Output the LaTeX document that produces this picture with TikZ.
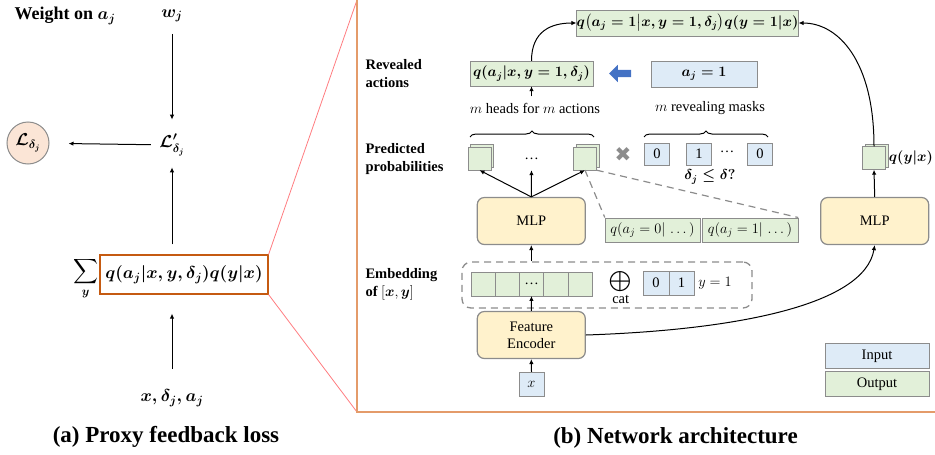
\documentclass[tikz,border=0pt]{standalone}
\usepackage{amsmath}
\usepackage{fontspec}
\setmainfont{Liberation Serif}
\newfontfamily\dejavu{DejaVu Sans}
\usetikzlibrary{positioning,arrows.meta,decorations.pathreplacing,shapes.arrows,shadows}

\definecolor{outgreen}{HTML}{E2F0D9}
\definecolor{inblue}{HTML}{DEEBF7}
\definecolor{mlpyellow}{HTML}{FFF2CC}
\definecolor{losspeach}{HTML}{FBE5D6}
\definecolor{edgegray}{HTML}{8C8C8C}
\definecolor{zoomorange}{HTML}{C55A11}
\definecolor{frameorange}{HTML}{E49B6A}
\definecolor{zoomred}{HTML}{FF7C80}
\definecolor{arrowblue}{HTML}{4472C4}

\newcommand\nsize{\fontsize{14.5}{17}\selectfont}
\newcommand\bigmath{\fontsize{17}{20}\selectfont\boldmath}

\tikzset{
  conn/.style={-{Latex[length=5pt,width=4.5pt]},line width=1pt},
  outbox/.style={draw=edgegray,fill=outgreen,inner sep=0pt,minimum height=24pt},
  inbox/.style={draw=edgegray,fill=inblue,inner sep=0pt,minimum height=24pt},
  mlpbox/.style={draw=edgegray,fill=mlpyellow,line width=1.2pt,rounded corners=7pt,
    minimum width=108pt,minimum height=47pt,align=center},
  rowlab/.style={anchor=west,align=left,font=\fontsize{14.5}{18}\selectfont\bfseries},
  sq/.style={outbox,minimum width=23pt,minimum height=23pt,
    copy shadow={shadow xshift=2.5pt,shadow yshift=2.5pt}},
  cell/.style={draw=edgegray,minimum width=24.3pt,minimum height=24pt,inner sep=0pt},
  curly/.style={decorate,decoration={brace,amplitude=6pt},line width=1pt},
  zoomdash/.style={edgegray,line width=1.2pt,dash pattern=on 7pt off 5pt},
  bm/.style={font=\nsize\boldmath},
  caption/.style={font=\fontsize{23}{25}\selectfont\bfseries}
}

\begin{document}
\begin{tikzpicture}[x=1pt,y=-1pt,font=\nsize]
  \useasboundingbox (0,0) rectangle (935,455);

  %% (a) proxy feedback loss
  \node[font=\fontsize{18}{20}\selectfont\bfseries\boldmath] (wlab) at (65,16) {Weight on $a_j$};
  \node[font=\fontsize{18}{20}\selectfont\boldmath] (wj) at (172,16) {$w_j$};
  \node[font=\bigmath] (lp) at (172,145) {$\mathcal{L}'_{\delta_j}$};
  \node[circle,draw=edgegray,fill=losspeach,line width=1pt,minimum size=42pt,
    inner sep=0pt,font=\bigmath] (lc) at (28,143) {$\mathcal{L}_{\delta_j}$};
  \node[draw=zoomorange,line width=1.2pt,minimum width=168pt,minimum height=39pt,
    inner sep=2pt,font=\bigmath] (qsum) at (184,274.5) {$q(a_j|x,y,\delta_j)q(y|x)$};
  \node[anchor=east,inner sep=1pt,yshift=-4pt,font=\bigmath] (sumsym) at (qsum.west)
    {$\displaystyle\sum_{y}$};
  \node[font=\bigmath] (xdj) at (172,398) {$x,\delta_j,a_j$};
  \node[caption] (capa) at (166,437) {(a) Proxy feedback loss};

  \draw[conn,shorten <=8pt,shorten >=11pt] (wj) -- (lp);
  \draw[conn,shorten <=5pt,shorten >=19pt] (lp) -- (lc);
  \draw[conn,shorten <=10pt,shorten >=8pt] (qsum.north -| lp) -- (lp);
  \draw[conn,shorten <=17pt,shorten >=19pt] (xdj.north) -- (xdj.north |- qsum.south);

  %% zoom into (b)
  \coordinate (ftop) at (357,0);
  \coordinate (fbot) at (357,412);
  \draw[zoomred,line width=.8pt] (qsum.north east) -- (ftop) (qsum.south east) -- (fbot);
  \draw[frameorange,line width=1.5pt] (ftop) -- (fbot) -- (935,412);

  %% (b) network architecture
  \node[rowlab] (revlab) at (362,74) {Revealed\\actions};
  \node[rowlab] (predlab) at (362,159) {Predicted\\probabilities};
  \node[rowlab] (emblab) at (362,284) {Embedding\\of $[\boldsymbol{x},\boldsymbol{y}]$};

  \node[outbox,minimum width=221pt,minimum height=26pt,bm] (joint) at (687.5,23)
    {$q\big(a_j=1\big|x,y=1,\delta_j\big)q(y=1|x)$};
  \node[outbox,minimum width=123pt,minimum height=25pt,bm] (qrev) at (531.5,73.5)
    {$q(a_j|x,y=1,\delta_j)$};
  \node[single arrow,fill=arrowblue,shape border rotate=180,minimum height=22pt,
    inner sep=3.5pt,single arrow head extend=5pt] (barr) at (622,73.5) {};
  \node[inbox,minimum width=106pt,minimum height=26pt,bm] (aone) at (704,74) {$a_j=1$};
  \node (heads) at (535,108) {$m$ heads for $m$ actions};
  \node (masks) at (710,108) {$m$ revealing masks};
  \draw[curly] (470,137) -- (594,137);
  \draw[curly] (644,137) -- (768,137);

  \node[sq] (p1) at (479.5,158.5) {};
  \node[minimum size=23pt,inner sep=0pt] (pdots) at (531.5,158.5) {\dots};
  \node[sq] (p2) at (585,158.5) {};
  \node[text=edgegray,font=\dejavu\fontsize{20}{20}\selectfont] (times) at (623,155) {✖};
  \foreach \n/\x/\v in {m1/657/0,m2/699/1,m3/760/0}
    \node[inbox,minimum width=25pt,minimum height=22pt] (\n) at (\x,154) {\v};
  \node (mdots) at (727,152) {\dots};
  \node[bm] (dcond) at (710,177) {$\delta_j\leq\delta?$};

  \node[outbox,minimum width=95pt] (pa0) at (652.5,229.7) {$q(a_j=0|\,\dots)$};
  \node[outbox,minimum width=96pt] (pa1) at (750,229.7) {$q(a_j=1|\,\dots)$};
  \node[mlpbox] (mlpa) at (531.3,221) {MLP};

  \node[draw=edgegray,line width=1.3pt,dash pattern=on 7pt off 5pt,rounded corners=9pt,
    minimum width=290pt,minimum height=46pt] (emb) at (607,285) {};
  \foreach \i/\t in {1/,2/,3/\dots,4/,5/}
    \node[cell,fill=outgreen] (e\i) at (458.6+24.3*\i,283.7) {\t};
  \node (oplus) at (620.7,281.7) {$\displaystyle\bigoplus$};
  \node (cat) at (620.7,299) {cat};
  \node[cell,fill=inblue,minimum width=26pt] (y0) at (656,283.2) {0};
  \node[cell,fill=inblue,minimum width=25pt] (y1) at (681.5,283.2) {1};
  \node (yeq) at (715,283) {$y=1$};

  \node[mlpbox] (enc) at (531.3,335) {Feature\\Encoder};
  \node[inbox,minimum width=25pt] (xin) at (531.5,384) {$x$};

  \node[mlpbox] (mlpb) at (874.7,221) {MLP};
  \node[sq] (py) at (874,158) {};
  \node[anchor=west,inner sep=1pt,xshift=2pt,bm] (pylab) at (py.east) {$q(y|x)$};

  \node[inbox,minimum width=104pt,minimum height=25pt] (legin) at (877,356) {Input};
  \node[outbox,minimum width=104pt,minimum height=25pt] (legout) at (877,384) {Output};
  \node[caption] (capb) at (675.5,438) {(b) Network architecture};

  %% connectors
  \draw[conn] (qrev.north) .. controls +(0,-30) and +(-25,0) .. (joint.west);
  \draw[conn] (py.north) .. controls +(0,-85) and +(40,0) .. (joint.east);
  \draw[conn,shorten <=3pt] (heads.north -| qrev.south) -- (qrev.south);
  \foreach \t in {p1,pdots,p2} \draw[conn] (mlpa.north) -- (\t.south);
  \draw[zoomdash] (p2.south) -- (pa0.north west) (p2.south east) -- (pa1.north east);
  \draw[conn] (emb.north -| mlpa.south) -- (mlpa.south);
  \draw[conn] (enc.north) -- (e3.south);
  \draw[conn] (xin.north) -- (enc.south);
  \draw[conn] (mlpb.north) -- (py.south);
  \draw[conn] (enc.east) .. controls +(150,-5) and +(-10,60) .. (mlpb.south);
\end{tikzpicture}
\end{document}
